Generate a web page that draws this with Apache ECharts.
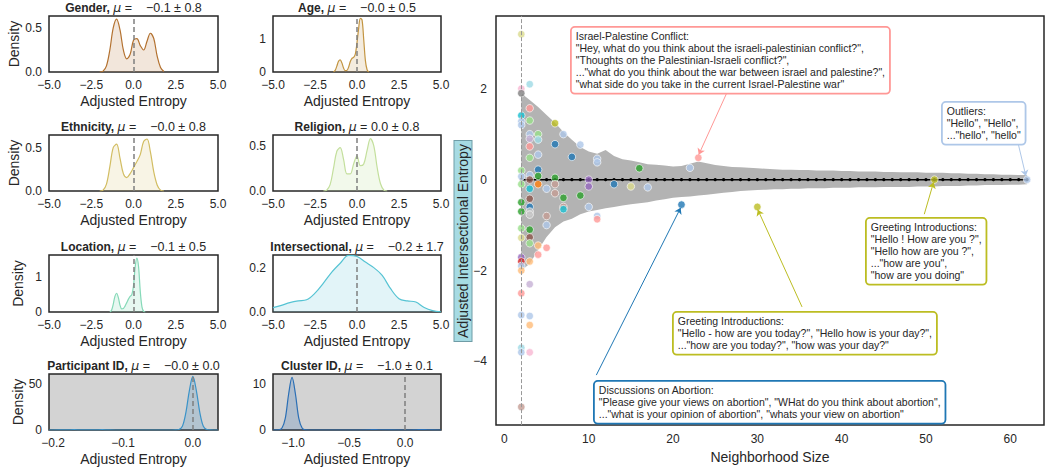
<!DOCTYPE html>
<html>
<head>
<meta charset="utf-8">
<script src="https://cdn.jsdelivr.net/npm/echarts@6/dist/echarts.min.js"></script>
<style>
html, body { margin: 0; padding: 0; background: #fff; }
#chart { width: 1045px; height: 469px; }
</style>
</head>
<body>
<div id="chart"></div>
<script>
// ---- density curves ----
var genderX = [-2.0, -1.8, -1.6, -1.4, -1.2, -1.0, -0.8, -0.6, -0.4, -0.2, 0, 0.2, 0.4, 0.6, 0.8, 1.0, 1.2, 1.4, 1.6, 1.8];
var genderY = [0, 0.01, 0.07, 0.25, 0.5, 0.6, 0.48, 0.25, 0.15, 0.2, 0.36, 0.38, 0.3, 0.25, 0.35, 0.44, 0.38, 0.18, 0.05, 0.005];

var ageX = [-1.4, -1.3, -1.2, -1.1, -1.0, -0.9, -0.8, -0.7, -0.6, -0.5, -0.4, -0.3, -0.2, -0.1, 0, 0.1, 0.2, 0.3, 0.4, 0.5, 0.6, 0.7];
var ageY = [0, 0.05, 0.18, 0.33, 0.37, 0.28, 0.12, 0.04, 0.05, 0.15, 0.32, 0.42, 0.45, 0.55, 0.9, 1.35, 1.65, 1.6, 1.0, 0.35, 0.07, 0];

var ethnicityX = [-2.0, -1.8, -1.6, -1.4, -1.2, -1.0, -0.8, -0.6, -0.4, -0.2, 0, 0.2, 0.4, 0.6, 0.8, 1.0, 1.2, 1.4, 1.6, 1.8];
var ethnicityY = [0, 0.01, 0.08, 0.28, 0.5, 0.54, 0.38, 0.2, 0.155, 0.2, 0.27, 0.34, 0.42, 0.57, 0.6, 0.45, 0.22, 0.07, 0.01, 0];

var religionX = [-2.0, -1.8, -1.6, -1.4, -1.2, -1.0, -0.8, -0.6, -0.4, -0.2, 0, 0.2, 0.4, 0.6, 0.8, 1.0, 1.2, 1.4, 1.6, 1.8];
var religionY = [0, 0.01, 0.07, 0.25, 0.44, 0.48, 0.35, 0.19, 0.19, 0.3, 0.39, 0.28, 0.3, 0.45, 0.58, 0.5, 0.26, 0.08, 0.01, 0];

var locationX = [-1.4, -1.3, -1.2, -1.1, -1.0, -0.9, -0.8, -0.7, -0.6, -0.5, -0.4, -0.3, -0.2, -0.1, 0, 0.1, 0.2, 0.3, 0.4, 0.5, 0.6, 0.7];
var locationY = [0, 0.05, 0.22, 0.45, 0.54, 0.42, 0.2, 0.09, 0.1, 0.17, 0.27, 0.37, 0.45, 0.5, 0.75, 1.3, 1.55, 1.3, 0.6, 0.15, 0.02, 0];

var interX = [-5, -4.5, -4, -3.5, -3, -2.5, -2, -1.5, -1, -0.5, 0, 0.5, 1, 1.5, 2, 2.5, 3, 3.5, 4, 4.5, 5];
var interY = [0.02, 0.03, 0.042, 0.05, 0.055, 0.085, 0.13, 0.18, 0.22, 0.255, 0.25, 0.225, 0.2, 0.165, 0.105, 0.06, 0.05, 0.045, 0.02, 0.006, 0.001];

var participantX = [-0.206, -0.18, -0.17, -0.16, -0.14, -0.13, -0.12, -0.1, -0.05, -0.03, -0.025, -0.02, -0.015, -0.01, -0.005, 0, 0.005, 0.01, 0.015, 0.02, 0.025, 0.03, 0.036];
var participantY = [0, 0.1, 0.3, 0.1, 0.1, 0.3, 0.1, 0, 0, 0, 0.05, 0.5, 4, 19, 43, 58.5, 43, 19, 4, 0.5, 0.05, 0, 0];

var clusterX = [-1.18, -1.13, -1.10, -1.07, -1.04, -1.01, -0.98, -0.95, -0.92, -0.89, -0.85, -0.5, -0.32, -0.28, -0.24, 0, 0.1, 0.15, 0.2, 0.32];
var clusterY = [0, 0.03, 0.42, 2.6, 7.9, 11.45, 7.9, 2.6, 0.42, 0.03, 0, 0, 0.05, 0.1, 0.05, 0, 0.05, 0.1, 0.05, 0];

// ---- right panel: spread of adjusted entropy by neighborhood size ----
var sizes = [2, 3, 4, 5, 6, 7, 8, 9, 10, 11, 12, 13, 14, 15, 16, 17, 18, 19, 20, 21, 22, 23, 24, 25, 26, 27, 28, 29, 30, 31,
  32, 33, 34, 35, 36, 37, 38, 39, 40, 41, 42, 43, 44, 45, 46, 47, 48, 49, 50, 51, 52, 53, 54, 55, 56, 57, 58, 59, 60, 61, 62];
var meanEntropy = [0, 0, 0, 0, 0, 0, 0, 0, 0, 0, 0, 0, 0, 0, 0, 0, 0, 0, 0, 0, 0, 0, 0, 0, 0, 0, 0, 0, 0, 0,
  0, 0, 0, 0, 0, 0, 0, 0, 0, 0, 0, 0, 0, 0, 0, 0, 0, 0, 0, 0, 0, 0, 0, 0, 0, 0, 0, 0, 0, 0, 0];
var bandHigh = [1.9, 1.75, 1.6, 1.42, 1.25, 1.05, 0.88, 0.72, 0.62, 0.57, 0.65, 0.52, 0.45, 0.42, 0.38, 0.34, 0.33, 0.31, 0.29, 0.3,
  0.35, 0.4, 0.36, 0.32, 0.3, 0.28, 0.27, 0.26, 0.25, 0.24, 0.23, 0.22, 0.22, 0.21, 0.21, 0.2, 0.2, 0.2, 0.19, 0.19,
  0.18, 0.18, 0.18, 0.17, 0.17, 0.16, 0.16, 0.16, 0.15, 0.15, 0.15, 0.14, 0.14, 0.13, 0.13, 0.12, 0.12, 0.11, 0.11, 0.1, 0.1];
var bandLow = [-2.0, -1.85, -1.55, -1.26, -1.05, -0.92, -0.86, -0.76, -0.7, -0.67, -0.63, -0.6, -0.57, -0.54, -0.52, -0.5, -0.46, -0.43, -0.4, -0.38,
  -0.37, -0.35, -0.33, -0.31, -0.29, -0.27, -0.25, -0.24, -0.23, -0.22, -0.21, -0.21, -0.2, -0.2, -0.19, -0.19, -0.19, -0.18, -0.18, -0.18,
  -0.17, -0.17, -0.17, -0.16, -0.16, -0.16, -0.16, -0.15, -0.15, -0.15, -0.14, -0.14, -0.14, -0.13, -0.13, -0.12, -0.12, -0.12, -0.11, -0.11, -0.1];

// clusters: neighborhood size, adjusted entropy, cluster group (index into palette)
var ptX = [2, 2, 2, 2, 2, 2, 2, 2, 2, 2, 2, 2, 2, 2, 2, 2, 2, 2, 2, 2, 2, 2,
  3, 3, 3, 3, 3, 3, 3, 3, 3, 3, 3, 3, 3, 3, 3, 3, 3, 3, 3, 3, 3, 3,
  4, 4, 4, 4, 4, 4, 4, 4, 5, 5, 5, 5, 6, 6, 6, 6, 6, 7, 7, 7, 7, 8, 9, 9, 10, 10, 10,
  11, 11, 11, 11, 13, 15, 16, 17, 22, 23, 21, 30, 51, 62];
var ptY = [3.2, 2.0, 1.9, 1.41, 1.28, 1.2, 0.2, 0.07, -0.1, -0.5, -0.7, -1.07, -1.28, -1.71, -1.8, -1.9, -2.0, -2.5, -2.98, -3.7, -3.8, -5.0,
  2.1, 1.57, 1.3, 1.0, 0.9, 0.73, 0.48, 0.1, 0.0, -0.2, -0.42, -0.6, -0.7, -0.77, -1.1, -1.27, -1.4, -1.8, -2.3, -3.0, -3.2, -3.8,
  1.0, 0.88, 0.55, 0.22, 0.08, -0.1, -1.45, -1.65, -0.2, -0.8, -1.0, -1.5, 1.24, 0.78, 0.04, -0.1, -0.3, 1.0, -0.4, -0.6, -0.65, 0.5, 0.77, -0.35, 0.0, -0.15, -0.6,
  0.46, 0.38, -0.8, -0.87, -0.1, -0.15, 0.25, -0.17, 0.26, 0.48, -0.55, -0.6, 0.0, 0.0];
var ptGroup = [17, 13, 14, 18, 1, 1, 5, 1, 5, 4, 4, 5, 17, 8, 6, 1, 3, 7, 1, 19, 1, 11,
  19, 7, 5, 1, 9, 7, 5, 1, 10, 18, 10, 0, 15, 15, 4, 10, 5, 3, 9, 1, 3, 13,
  5, 19, 1, 0, 4, 2, 3, 7, 1, 11, 1, 7, 16, 0, 4, 11, 11, 1, 4, 11, 18, 0, 1, 4, 8, 8, 1,
  1, 1, 1, 7, 0, 17, 4, 1, 1, 7, 0, 16, 16, 1];

var palette = ['#1f77b4', '#aec7e8', '#ff7f0e', '#ffbb78', '#2ca02c', '#98df8a', '#d62728', '#ff9896', '#9467bd', '#c5b0d5',
  '#8c564b', '#c49c94', '#e377c2', '#f7b6d2', '#7f7f7f', '#c7c7c7', '#bcbd22', '#dbdb8d', '#17becf', '#9edae5'];

var FONT = '"Liberation Sans", Arial, Helvetica, sans-serif';
var INK = '#262626';
function minus(s) { return String(s).replace('-', '\u2212'); }
function fmt(d) { return function (v) { return minus(Number(v).toFixed(d)); }; }

// mathtext puts a wide gap between "=" and a leading minus
var NEG = ' =\u00a0\u00a0\u00a0\u00a0\u2212';
var panels = [
  { name: 'Gender,', stat: NEG + '0.1 \u00b1 0.8', x: genderX, y: genderY, color: '#b3712f', fill: 'rgba(190,130,70,0.28)',
    xr: [-5, 5], xt: [-5, -2.5, 0, 2.5, 5], xd: 1, yr: [0, 0.636], yt: [0, 0.5], yd: 1 },
  { name: 'Age,', stat: NEG + '0.0 \u00b1 0.5', x: ageX, y: ageY, color: '#c39542', fill: 'rgba(200,160,90,0.28)',
    xr: [-5, 5], xt: [-5, -2.5, 0, 2.5, 5], xd: 1, yr: [0, 1.72], yt: [0, 1], yd: 0 },
  { name: 'Ethnicity,', stat: NEG + '0.0 \u00b1 0.8', x: ethnicityX, y: ethnicityY, color: '#d2bd62', fill: 'rgba(215,195,110,0.25)',
    xr: [-5, 5], xt: [-5, -2.5, 0, 2.5, 5], xd: 1, yr: [0, 0.646], yt: [0, 0.5], yd: 1 },
  { name: 'Religion,', stat: ' = 0.0 \u00b1 0.8', x: religionX, y: religionY, color: '#c3df9c', fill: 'rgba(195,225,160,0.3)',
    xr: [-5, 5], xt: [-5, -2.5, 0, 2.5, 5], xd: 1, yr: [0, 0.62], yt: [0, 0.5], yd: 1 },
  { name: 'Location,', stat: NEG + '0.1 \u00b1 0.5', x: locationX, y: locationY, color: '#86d9b8', fill: 'rgba(140,220,190,0.3)',
    xr: [-5, 5], xt: [-5, -2.5, 0, 2.5, 5], xd: 1, yr: [0, 1.64], yt: [0, 1], yd: 0 },
  { name: 'Intersectional,', stat: NEG + '0.2 \u00b1 1.7', x: interX, y: interY, color: '#55c3d3', fill: 'rgba(90,195,215,0.25)',
    xr: [-5, 5], xt: [-5, -2.5, 0, 2.5, 5], xd: 1, yr: [0, 0.257], yt: [0, 0.2], yd: 1 },
  { name: 'Participant ID,', stat: NEG + '0.0 \u00b1 0.0', x: participantX, y: participantY, color: '#3b93c8', fill: 'rgba(60,140,200,0.3)',
    xr: [-0.206, 0.036], xt: [-0.2, -0.1, 0], xd: 1, yr: [0, 61], yt: [0, 50], yd: 0, bg: '#d3d3d3' },
  { name: 'Cluster ID,', stat: NEG + '1.0 \u00b1 0.1', x: clusterX, y: clusterY, color: '#2b6fb5', fill: 'rgba(45,110,180,0.3)',
    xr: [-1.18, 0.32], xt: [-1, -0.5, 0], xd: 1, yr: [0, 12.2], yt: [0, 10], yd: 0, bg: '#d3d3d3' }
];

var colLeft = [49, 273], colWidth = [169, 168];
var rowTop = [16, 135, 255, 374], rowHeight = [56, 56, 57, 56];

var grids = [], xAxes = [], yAxes = [], series = [], graphics = [];

panels.forEach(function (p, i) {
  var col = i % 2, row = Math.floor(i / 2);
  var left = colLeft[col], top = rowTop[row], w = colWidth[col], h = rowHeight[row];
  grids.push({ left: left, top: top, width: w, height: h, show: true, borderColor: INK, borderWidth: 1.5,
    backgroundColor: p.bg || 'transparent' });
  xAxes.push({
    gridIndex: i, type: 'value', min: p.xr[0], max: p.xr[1],
    axisLine: { show: false }, axisTick: { show: false }, splitLine: { show: false },
    axisLabel: { customValues: p.xt, formatter: fmt(p.xd), color: INK, fontSize: 12, margin: 7, fontFamily: FONT },
    name: 'Adjusted Entropy', nameLocation: 'middle', nameGap: 22,
    nameTextStyle: { fontSize: 14, color: INK, fontFamily: FONT }
  });
  yAxes.push({
    gridIndex: i, type: 'value', min: p.yr[0], max: p.yr[1],
    axisLine: { show: false }, axisTick: { show: false }, splitLine: { show: false },
    axisLabel: { customValues: p.yt, formatter: fmt(p.yd), color: INK, fontSize: 12, margin: 7, fontFamily: FONT },
    name: col === 0 ? 'Density' : '', nameLocation: 'middle', nameGap: 24,
    nameTextStyle: { fontSize: 14, color: INK, fontFamily: FONT }
  });
  series.push({
    type: 'line', xAxisIndex: i, yAxisIndex: i, smooth: 0.35, symbol: 'none', silent: true,
    data: p.x.map(function (v, k) { return [v, p.y[k]]; }),
    lineStyle: { color: p.color, width: 1.2 },
    areaStyle: { color: p.fill },
    markLine: { silent: true, symbol: ['none', 'none'], label: { show: false },
      lineStyle: { color: '#7f7f7f', type: [5, 3], width: 1.5 }, data: [{ xAxis: 0 }] }
  });
  graphics.push({
    type: 'text', x: left + w / 2, y: top - 8.5, z: 50,
    style: {
      text: '{b|' + p.name + '} {i|\u03bc}' + p.stat,
      align: 'center', verticalAlign: 'middle', fontSize: 12.5, fontFamily: FONT, fill: INK,
      rich: {
        b: { fontWeight: 'bold', fontSize: 12, fontFamily: FONT, fill: INK },
        i: { fontStyle: 'italic', fontSize: 12.5, fontFamily: '"DejaVu Sans"', fill: INK }
      }
    }
  });
});

// ---- big panel ----
var B = 8;
grids.push({ left: 496, top: 16, width: 548, height: 414, show: true, borderColor: INK, borderWidth: 1.5 });
xAxes.push({
  gridIndex: B, type: 'value', min: -1, max: 64,
  axisLine: { show: false }, axisTick: { show: false }, splitLine: { show: false },
  axisLabel: { customValues: [0, 10, 20, 30, 40, 50, 60], formatter: fmt(0), color: INK, fontSize: 12, margin: 8, fontFamily: FONT },
  name: 'Neighborhood Size', nameLocation: 'middle', nameGap: 21,
  nameTextStyle: { fontSize: 14, color: INK, fontFamily: FONT }
});
yAxes.push({
  gridIndex: B, type: 'value', min: -5.4, max: 3.6,
  axisLine: { show: false }, axisTick: { show: false }, splitLine: { show: false },
  axisLabel: { customValues: [-4, -2, 0, 2], formatter: fmt(0), color: INK, fontSize: 12, margin: 9, fontFamily: FONT }
});

var bandColor = '#b3b3b3';
series.push({
  type: 'line', xAxisIndex: B, yAxisIndex: B, symbol: 'none', silent: true, z: 2,
  data: sizes.map(function (s, k) { return [s, bandHigh[k]]; }),
  lineStyle: { width: 0, opacity: 0 }, areaStyle: { color: bandColor, opacity: 1 }
});
series.push({
  type: 'line', xAxisIndex: B, yAxisIndex: B, symbol: 'none', silent: true, z: 2,
  data: sizes.map(function (s, k) { return [s, bandLow[k]]; }),
  lineStyle: { width: 0, opacity: 0 }, areaStyle: { color: bandColor, opacity: 1 }
});
series.push({
  type: 'line', xAxisIndex: B, yAxisIndex: B, symbol: 'circle', symbolSize: 3.2, silent: true, z: 3,
  data: sizes.map(function (s, k) { return [s, meanEntropy[k]]; }),
  lineStyle: { color: '#000', width: 1.5 }, itemStyle: { color: '#000' },
  markLine: { silent: true, symbol: ['none', 'none'], label: { show: false },
    lineStyle: { color: '#999', type: [4, 2], width: 1 }, data: [{ xAxis: 2 }] }
});

var arrows = [
  { from: [26.6, 2.0], to: [23.05, 0.55], color: '#ff9896' },
  { from: [60.8, 0.9], to: [61.85, 0.08], color: '#aec7e8' },
  { from: [49.8, -0.76], to: [50.9, -0.06], color: '#bcbd22' },
  { from: [35.3, -2.8], to: [30.05, -0.66], color: '#bcbd22' },
  { from: [10.9, -4.3], to: [20.9, -0.62], color: '#1f77b4' }
];

series.push({
  type: 'scatter', xAxisIndex: B, yAxisIndex: B, symbolSize: 7.5, silent: true, z: 4,
  data: ptX.map(function (x, k) {
    return { value: [x, ptY[k]], itemStyle: { color: palette[ptGroup[k]] } };
  }),
  itemStyle: { opacity: 0.8, borderColor: '#fff', borderWidth: 0.8 },
  markLine: {
    silent: true, symbol: ['none', 'arrow'], symbolSize: 6, label: { show: false },
    data: arrows.map(function (a) {
      return [{ coord: a.from, lineStyle: { color: a.color, width: 1, type: 'solid' } }, { coord: a.to }];
    })
  }
});

function note(text, left, top, color) {
  return {
    type: 'text', left: left, top: top, z: 60,
    style: {
      text: text, fontSize: 10.5, lineHeight: 12, fontFamily: FONT, fill: INK,
      backgroundColor: '#fff', borderColor: color, borderWidth: 1.8, borderRadius: 3, padding: [2, 4, 3, 4]
    }
  };
}

graphics.push(note('Israel-Palestine Conflict:\n"Hey, what do you think about the israeli-palestinian conflict?",\n"Thoughts on the Palestinian-Israeli conflict?",\n..."what do you think about the war between israel and palestine?",\n"what side do you take in the current Israel-Palestine war"', 570, 26, '#ff9896'));
graphics.push(note('Outliers:\n"Hello", "Hello",\n..."hello", "hello"', 941, 101, '#aec7e8'));
graphics.push(note('Greeting Introductions:\n"Hello ! How are you ?",\n"Hello how are you ?",\n..."how are you",\n"how are you doing"', 865, 217, '#bcbd22'));
graphics.push(note('Greeting Introductions:\n"Hello - how are you today?", "Hello how is your day?",\n..."how are you today?", "how was your day?"', 672, 311, '#bcbd22'));
graphics.push(note('Discussions on Abortion:\n"Please give your views on abortion", "WHat do you think about abortion",\n..."what is your opinion of abortion", "whats your view on abortion"', 593, 380, '#1f77b4'));

graphics.push({
  type: 'text', x: 463, y: 241, rotation: Math.PI / 2, z: 60,
  style: {
    text: 'Adjusted Intersectional Entropy', fontSize: 14, fontFamily: FONT, fill: INK,
    align: 'center', verticalAlign: 'middle',
    backgroundColor: '#a6dbe3', borderColor: '#6f9ca6', borderWidth: 1, padding: [2, 3, 1, 3]
  }
});

var chart = echarts.init(document.getElementById('chart'), null, { renderer: 'svg' });
chart.setOption({
  animation: false,
  backgroundColor: '#fff',
  textStyle: { fontFamily: FONT },
  grid: grids,
  xAxis: xAxes,
  yAxis: yAxes,
  series: series,
  graphic: graphics
});
</script>
</body>
</html>
